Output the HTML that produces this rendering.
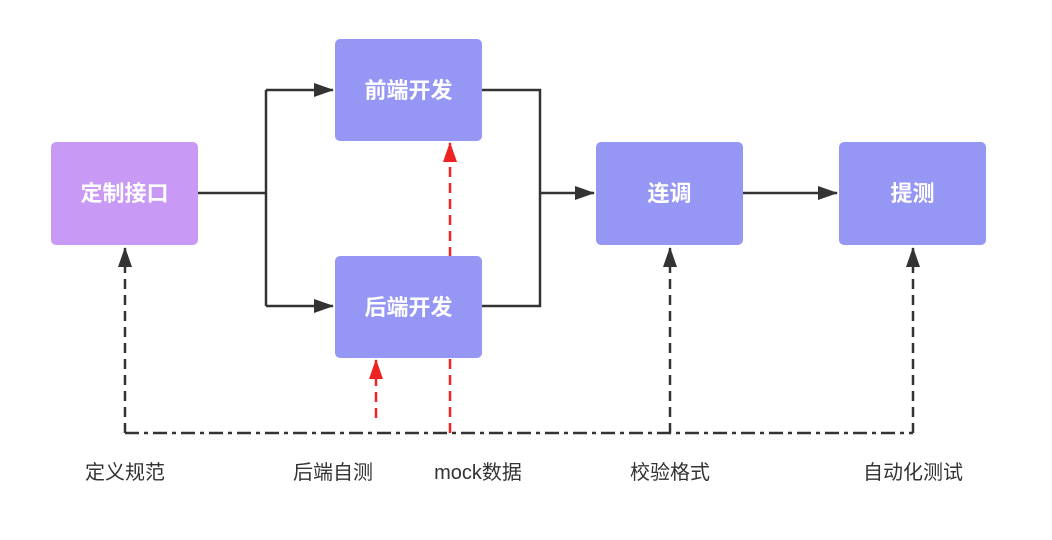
<!DOCTYPE html>
<html><head><meta charset="utf-8"><style>
body{margin:0;background:#fff;width:1052px;height:535px;overflow:hidden}
svg text{font-family:"Liberation Sans","Noto Sans CJK SC",sans-serif}
</style></head><body>
<svg width="1052" height="535" viewBox="0 0 1052 535">
<defs>
<marker id="a" markerWidth="10" markerHeight="10" refX="9" refY="5" orient="auto" markerUnits="userSpaceOnUse"><path d="M0,0 L10,5 L0,10Z" fill="#333"/></marker>
<marker id="b" markerWidth="20" markerHeight="14" refX="19" refY="7" orient="auto" markerUnits="userSpaceOnUse"><path d="M0,0 L20,7 L0,14Z" fill="#333"/></marker>
<marker id="r" markerWidth="20" markerHeight="14" refX="19" refY="7" orient="auto" markerUnits="userSpaceOnUse"><path d="M0,0 L20,7 L0,14Z" fill="#ee2222"/></marker>
</defs>
<g stroke="#333" stroke-width="2.5" fill="none">
<path d="M198,193 H266"/>
<path d="M335,90 H266 V306 H335" stroke="none"/>
<path d="M266,90 V306"/>
<path d="M266,90 H333" marker-end="url(#b)"/>
<path d="M266,306 H333" marker-end="url(#b)"/>
<path d="M482,90 H540 V306 H482"/>
<path d="M540,193 H594" marker-end="url(#b)"/>
<path d="M743,193 H837" marker-end="url(#b)"/>
</g>
<g stroke="#333" stroke-width="2.5" fill="none">
<path d="M125,433 H913" stroke-dasharray="14,5,4,5"/>
<path d="M125,433 V248" stroke-dasharray="10,6" marker-end="url(#b)"/>
<path d="M670,433 V248" stroke-dasharray="10,6" marker-end="url(#b)"/>
<path d="M913,433 V248" stroke-dasharray="10,6" marker-end="url(#b)"/>
</g>
<g stroke="#ee2222" stroke-width="2.5" fill="none">
<path d="M450,433 V143" stroke-dasharray="10,6" marker-end="url(#r)"/>
<path d="M376,418 V360" stroke-dasharray="10,6" marker-end="url(#r)"/>
</g>
<g font-size="22" font-weight="bold" fill="#fff" text-anchor="middle">
<rect x="51" y="142" width="147" height="103" rx="5" fill="#c99af5"/>
<text x="124.5" y="201">定制接口</text>
<rect x="335" y="39" width="147" height="102" rx="5" fill="#9696f5"/>
<text x="408.5" y="98">前端开发</text>
<rect x="335" y="256" width="147" height="102" rx="5" fill="#9696f5"/>
<text x="408.5" y="315">后端开发</text>
<rect x="596" y="142" width="147" height="103" rx="5" fill="#9696f5"/>
<text x="669.5" y="201">连调</text>
<rect x="839" y="142" width="147" height="103" rx="5" fill="#9696f5"/>
<text x="912.5" y="201">提测</text>
</g>
<g font-size="20" fill="#333" text-anchor="middle">
<text x="125" y="479">定义规范</text>
<text x="333" y="479">后端自测</text>
<text x="478" y="479">mock数据</text>
<text x="670" y="479">校验格式</text>
<text x="913" y="479">自动化测试</text>
</g>
</svg>
</body></html>
